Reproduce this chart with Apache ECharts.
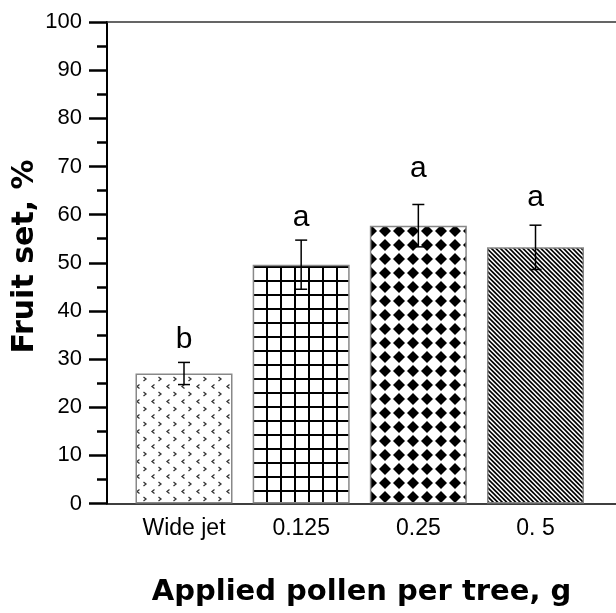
<!DOCTYPE html>
<html>
<head>
    <meta charset="utf-8">
    <title>Fruit set</title>
    <style>
        html, body { margin: 0; padding: 0; background: #fff; }
        #chart { width: 616px; height: 613px; }
    </style>
</head>
<body>
    <div id="chart"></div>
    <script src="https://cdn.jsdelivr.net/npm/echarts@6/dist/echarts.min.js"></script>
    <script>
        // data
        var categories = ['Wide jet', '0.125', '0.25', '0. 5'];
        var fruitSet = [27.0, 49.6, 57.7, 53.2];
        var errors = [2.3, 5.1, 4.4, 4.6];
        var letters = ['b', 'a', 'a', 'a'];
        var letterPos = [31.0, 56.2, 66.4, 60.3];

        var font = 'Liberation Sans, Arial, sans-serif';
        var titleFont = 'DejaVu Sans, Arial, sans-serif';

        function tile(size, draw) {
            var c = document.createElement('canvas');
            c.width = size; c.height = size;
            var ctx = c.getContext('2d');
            ctx.fillStyle = '#fff';
            ctx.fillRect(0, 0, size, size);
            draw(ctx, size);
            return c;
        }

        // small gray chevrons
        var chevrons = tile(15, function (ctx) {
            ctx.strokeStyle = '#333';
            ctx.lineWidth = 1.3;
            ctx.beginPath();
            ctx.moveTo(8.5, 2); ctx.lineTo(11, 4); ctx.lineTo(8.5, 6);
            ctx.moveTo(4.5, 9.5); ctx.lineTo(2, 11.5); ctx.lineTo(4.5, 13.5);
            ctx.stroke();
        });
        // square grid
        var grid = tile(14, function (ctx, s) {
            ctx.fillStyle = '#000';
            ctx.fillRect(0, 0, 2, s);
            ctx.fillRect(0, 0, s, 2);
        });
        // black diamonds
        var diamonds = tile(14, function (ctx) {
            ctx.fillStyle = '#000';
            ctx.beginPath();
            ctx.moveTo(7, 1); ctx.lineTo(13, 7); ctx.lineTo(7, 13); ctx.lineTo(1, 7);
            ctx.closePath();
            ctx.fill();
        });
        // diagonal stripes "\"
        var stripes = tile(9, function (ctx, s) {
            ctx.strokeStyle = '#000';
            ctx.lineWidth = 1.6;
            ctx.beginPath();
            [-9, -4.5, 0, 4.5, 9].forEach(function (x0) {
                ctx.moveTo(x0 - 1, -1); ctx.lineTo(x0 + s + 1, s + 1);
            });
            ctx.stroke();
        });
        var patterns = [chevrons, grid, diamonds, stripes];

        var barData = fruitSet.map(function (v, i) {
            return {
                value: [i + 1, v],
                itemStyle: { color: { image: patterns[i], repeat: 'repeat' } }
            };
        });
        var errData = fruitSet.map(function (v, i) { return [i + 1, v, errors[i]]; });
        var letterData = letterPos.map(function (v, i) { return [i + 1, v, letters[i]]; });

        var xMin = 0.3428, xMax = 4.687;

        var myChart = echarts.init(document.getElementById('chart'), null, { renderer: 'canvas' });
        var option = {
            animation: false,
            backgroundColor: '#fff',
            grid: { left: 107, right: 0, top: 22, bottom: 109.5, outerBoundsMode: 'none' },
            // y axis title, placed by hand
            graphic: [{
                type: 'text',
                x: 25,
                y: 256.5,
                rotation: Math.PI / 2,
                style: {
                    text: 'Fruit set, %',
                    fill: '#000',
                    font: 'bold 30px ' + titleFont,
                    align: 'center',
                    verticalAlign: 'middle'
                }
            }],
            xAxis: [{
                type: 'value',
                min: xMin,
                max: xMax,
                axisLine: { lineStyle: { color: '#000', width: 1.5 } },
                axisTick: { show: false },
                splitLine: { show: false },
                axisLabel: {
                    customValues: [1, 2, 3, 4],
                    formatter: function (v) { return categories[Math.round(v) - 1]; },
                    color: '#000', fontSize: 23, fontFamily: font, margin: 14
                },
                name: 'Applied pollen per tree, g',
                nameLocation: 'middle',
                nameGap: 74,
                nameTextStyle: {
                    color: '#000', fontSize: 29, fontWeight: 'bold', fontFamily: titleFont
                }
            }, {
                type: 'value',
                position: 'top',
                min: xMin,
                max: xMax,
                axisLine: { show: true, lineStyle: { color: '#333', width: 1.5 } },
                axisTick: { show: false },
                axisLabel: { show: false },
                splitLine: { show: false }
            }],
            yAxis: {
                type: 'value',
                min: 0, max: 100, interval: 10,
                axisLine: { show: true, lineStyle: { color: '#000', width: 2 } },
                axisTick: { show: true, length: 18, lineStyle: { color: '#000', width: 2.5 } },
                minorTick: { show: true, splitNumber: 2, length: 10, lineStyle: { color: '#000', width: 2.5 } },
                splitLine: { show: false },
                axisLabel: { color: '#000', fontSize: 22, fontFamily: font, margin: 25 }
            },
            series: [
                {
                    type: 'bar',
                    barWidth: 97,
                    data: barData,
                    itemStyle: { borderColor: '#888', borderWidth: 1.5 }
                },
                {
                    type: 'custom',
                    data: errData,
                    z: 5,
                    renderItem: function (params, api) {
                        var x = api.value(0), y = api.value(1), e = api.value(2);
                        var top = api.coord([x, y + e]);
                        var bot = api.coord([x, y - e]);
                        var style = { stroke: '#000', lineWidth: 1.5 };
                        return {
                            type: 'group',
                            children: [
                                { type: 'line', shape: { x1: top[0], y1: top[1], x2: bot[0], y2: bot[1] }, style: style },
                                { type: 'line', shape: { x1: top[0] - 6, y1: top[1], x2: top[0] + 6, y2: top[1] }, style: style },
                                { type: 'line', shape: { x1: bot[0] - 6, y1: bot[1], x2: bot[0] + 6, y2: bot[1] }, style: style }
                            ]
                        };
                    }
                },
                {
                    type: 'custom',
                    data: letterData,
                    z: 6,
                    renderItem: function (params, api) {
                        var p = api.coord([api.value(0), api.value(1)]);
                        return {
                            type: 'text',
                            x: p[0], y: p[1],
                            style: {
                                text: letters[params.dataIndex],
                                fill: '#000',
                                font: '30px ' + font,
                                align: 'center',
                                verticalAlign: 'bottom'
                            }
                        };
                    }
                }
            ]
        };
        myChart.setOption(option);
    </script>
</body>
</html>
